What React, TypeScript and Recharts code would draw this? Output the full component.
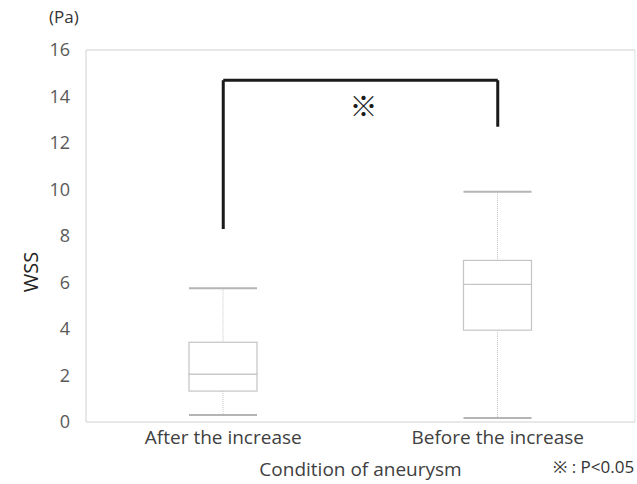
import { Bar, ComposedChart, ReferenceLine, XAxis, YAxis } from "recharts";

const groups = ["After the increase", "Before the increase"];
const mins = [0.3, 0.17];
const q1s = [1.33, 3.95];
const medians = [2.06, 5.92];
const q3s = [3.43, 6.95];
const maxs = [5.75, 9.9];
const yTicks = [0, 2, 4, 6, 8, 10, 12, 14, 16];

// significance bracket (values in Pa)
const bracketTop = 14.7;
const bracketLeftEnd = 8.3;
const bracketRightEnd = 12.7;

const data = groups.map((g, i) => ({
  name: g,
  base: mins[i],
  lowWhisker: q1s[i] - mins[i],
  lowBox: medians[i] - q1s[i],
  highBox: q3s[i] - medians[i],
  highWhisker: maxs[i] - q3s[i],
}));

const boxColor = "#c4c4c4";
const font = "'Open Sans', 'Noto Sans', sans-serif";

function LowWhisker(p: any) {
  const cx = p.x + p.width / 2;
  return (
    <g>
      <line x1={cx} x2={cx} y1={p.y} y2={p.y + p.height} stroke={boxColor} strokeWidth={1} strokeDasharray="1 1" />
      <line x1={p.x} x2={p.x + p.width} y1={p.y + p.height} y2={p.y + p.height} stroke="#b4b4b4" strokeWidth={2} />
    </g>
  );
}

function HighWhisker(p: any) {
  const cx = p.x + p.width / 2;
  return (
    <g>
      <line x1={cx} x2={cx} y1={p.y} y2={p.y + p.height} stroke={boxColor} strokeWidth={1} strokeDasharray="1 1" />
      <line x1={p.x} x2={p.x + p.width} y1={p.y} y2={p.y} stroke="#b4b4b4" strokeWidth={2} />
    </g>
  );
}

function BoxPart(p: any) {
  return <rect x={p.x} y={p.y} width={p.width} height={p.height} fill="#fff" stroke={boxColor} strokeWidth={1.2} />;
}

function StarLabel(props: any) {
  const vb = props.viewBox || {};
  const x = vb.x1 !== undefined ? (vb.x1 + vb.x2) / 2 : vb.x + (vb.width || 0) / 2;
  const y = vb.y1 !== undefined ? vb.y1 : vb.y;
  return (
    <text x={x + 3} y={y + 37} textAnchor="middle" fontSize={28} fontWeight={500} fill="#1a1a1a" fontFamily="'Noto Sans CJK JP', sans-serif">
      ※
    </text>
  );
}

function WssLabel() {
  const cy = 272;
  return (
    <text x={30} y={cy} transform={`rotate(-90, 30, ${cy})`} textAnchor="middle" dominantBaseline="central" fontSize={20} fill="#222" fontFamily={font}>
      WSS
    </text>
  );
}

export default function App() {
  return (
    <div style={{ position: "absolute", left: 0, top: 0, width: 637, height: 484, background: "#fff", fontFamily: font }}>
      <div style={{ position: "absolute", left: 49, top: 5, fontSize: 17, color: "#333" }}>(Pa)</div>
      <div style={{ position: "absolute", left: 553, top: 455, fontSize: 17, color: "#333" }}>※ : P&lt;0.05</div>
      <ComposedChart width={637} height={484} data={data} margin={{ top: 50, right: 0, left: 0, bottom: 2 }} barCategoryGap="0%">
        <XAxis
          dataKey="name"
          height={60}
          tickLine={false}
          tick={{ fontSize: 19, fill: "#404040", fontFamily: font }}
          tickMargin={3}
          axisLine={{ stroke: "#d0d0d0" }}
          label={{ value: "Condition of aneurysm", position: "insideBottom", offset: 6, fontSize: 19, fill: "#404040", fontFamily: font }}
        />
        <YAxis
          domain={[0, 16]}
          ticks={yTicks}
          width={86}
          tickLine={false}
          tickSize={0}
          tickMargin={16}
          axisLine={{ stroke: "#d0d0d0" }}
          tick={{ fontSize: 18, fill: "#595959", fontFamily: font }}
          label={WssLabel}
        />
        <YAxis yAxisId="r" orientation="right" width={2} domain={[0, 16]} tick={false} tickLine={false} axisLine={{ stroke: "#e0e0e0" }} />
        <ReferenceLine y={16} stroke="#d0d0d0" />
        <Bar dataKey="base" stackId="a" fill="transparent" barSize={68} isAnimationActive={false} />
        <Bar dataKey="lowWhisker" stackId="a" barSize={68} shape={LowWhisker} isAnimationActive={false} />
        <Bar dataKey="lowBox" stackId="a" barSize={68} shape={BoxPart} isAnimationActive={false} />
        <Bar dataKey="highBox" stackId="a" barSize={68} shape={BoxPart} isAnimationActive={false} />
        <Bar dataKey="highWhisker" stackId="a" barSize={68} shape={HighWhisker} isAnimationActive={false} />
        <ReferenceLine
          segment={[{ x: groups[0], y: bracketTop }, { x: groups[1], y: bracketTop }]}
          stroke="#1a1a1a"
          strokeWidth={3}
          label={StarLabel}
        />
        <ReferenceLine segment={[{ x: groups[0], y: bracketTop }, { x: groups[0], y: bracketLeftEnd }]} stroke="#1a1a1a" strokeWidth={3} />
        <ReferenceLine segment={[{ x: groups[1], y: bracketTop }, { x: groups[1], y: bracketRightEnd }]} stroke="#1a1a1a" strokeWidth={3} />
      </ComposedChart>
    </div>
  );
}
